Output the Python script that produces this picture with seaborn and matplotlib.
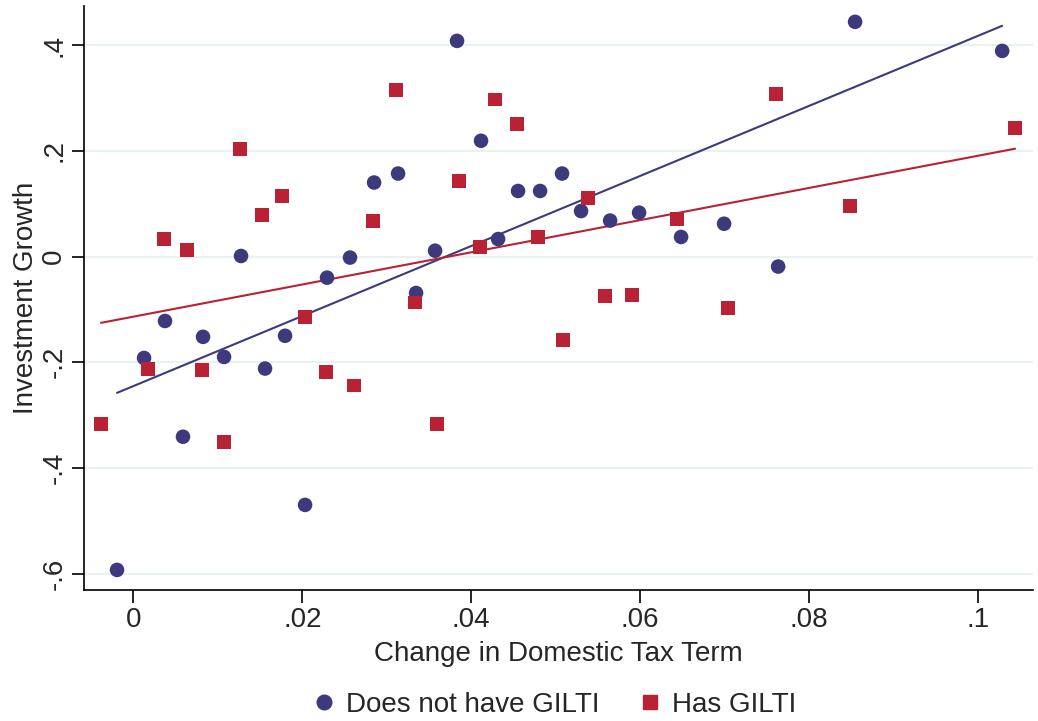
import numpy as np
import pandas as pd
import matplotlib
matplotlib.use("Agg")
import matplotlib.pyplot as plt
import seaborn as sns
from matplotlib.lines import Line2D

# Binned means, firms without GILTI exposure
no_gilti_x = [-0.00193, 0.00127, 0.00375, 0.00588, 0.00825, 0.01074, 0.01275, 0.01559,
              0.01796, 0.02033, 0.02293, 0.02565, 0.02850, 0.03134, 0.03347, 0.03572,
              0.03832, 0.04116, 0.04318, 0.04554, 0.04815, 0.05075, 0.05300, 0.05644,
              0.05987, 0.06484, 0.06993, 0.07633, 0.08544, 0.10285]
no_gilti_y = [-0.593, -0.192, -0.122, -0.341, -0.152, -0.190, 0.001, -0.212,
              -0.150, -0.470, -0.040, -0.002, 0.140, 0.157, -0.069, 0.011,
              0.408, 0.219, 0.033, 0.124, 0.124, 0.157, 0.086, 0.068,
              0.083, 0.037, 0.062, -0.019, 0.444, 0.389]

# Binned means, firms with GILTI exposure
gilti_x = [-0.00383, 0.00174, 0.00363, 0.00636, 0.00813, 0.01074, 0.01263, 0.01524,
           0.01761, 0.02033, 0.02281, 0.02612, 0.02837, 0.03110, 0.03335, 0.03595,
           0.03856, 0.04104, 0.04282, 0.04542, 0.04791, 0.05087, 0.05383, 0.05584,
           0.05904, 0.06437, 0.07040, 0.07608, 0.08484, 0.10438]
gilti_y = [-0.317, -0.212, 0.033, 0.013, -0.214, -0.351, 0.204, 0.079,
           0.115, -0.114, -0.218, -0.244, 0.068, 0.315, -0.087, -0.317,
           0.143, 0.018, 0.297, 0.250, 0.037, -0.158, 0.111, -0.074,
           -0.073, 0.071, -0.097, 0.308, 0.096, 0.243]

# Linear fit endpoints
no_gilti_fit_x = [-0.00193, 0.10285]
no_gilti_fit_y = [-0.258, 0.4365]
gilti_fit_x = [-0.00383, 0.10438]
gilti_fit_y = [-0.1255, 0.204]

x_ticks = [0, 0.02, 0.04, 0.06, 0.08, 0.1]
x_tick_labels = ["0", ".02", ".04", ".06", ".08", ".1"]
y_ticks = [-0.6, -0.4, -0.2, 0, 0.2, 0.4]
y_tick_labels = ["-.6", "-.4", "-.2", "0", ".2", ".4"]

navy = "#3c3a7c"
red = "#b82234"
grid_color = "#eaf1f3"

sns.set_style("white")
plt.rcParams['font.family'] = ['Liberation Sans', 'DejaVu Sans']

fig = plt.figure(figsize=(10.38, 7.21), dpi=100)
ax = fig.add_axes([84 / 1038, 131 / 721, (1033 - 84) / 1038, (590 - 6) / 721])

for yv in y_ticks:
    ax.axhline(yv, color=grid_color, lw=1.6, zorder=0)

df_no = pd.DataFrame({'x': no_gilti_x, 'y': no_gilti_y})
df_g = pd.DataFrame({'x': gilti_x, 'y': gilti_y})

sns.scatterplot(data=df_no, x='x', y='y', ax=ax, color=navy, marker='o', s=110,
                edgecolor='none', zorder=3)
sns.scatterplot(data=df_g, x='x', y='y', ax=ax, color=red, marker='s', s=100,
                edgecolor='none', zorder=3)
sns.lineplot(x=no_gilti_fit_x, y=no_gilti_fit_y, ax=ax, color=navy, lw=1.5, zorder=2)
sns.lineplot(x=gilti_fit_x, y=gilti_fit_y, ax=ax, color=red, lw=1.5, zorder=2)

ax.set_xlim(-0.00584, 0.1065)
ax.set_ylim(-0.631, 0.474)

ax.set_xticks(x_ticks)
ax.set_xticklabels(x_tick_labels, fontsize=20)
ax.set_yticks(y_ticks)
ax.set_yticklabels(y_tick_labels, fontsize=20, rotation=90, va='center')
ax.tick_params(axis='both', direction='out', length=9, width=1.2, color='black',
               bottom=True, left=True, pad=3)

for side in ['top', 'right']:
    ax.spines[side].set_visible(False)
for side in ['left', 'bottom']:
    ax.spines[side].set_color('black')
    ax.spines[side].set_linewidth(1.2)

ax.set_xlabel("Change in Domestic Tax Term", fontsize=20, labelpad=6)
ax.set_ylabel("Investment Growth", fontsize=20, labelpad=2)

handles = [
    Line2D([], [], marker='o', color=navy, linestyle='none', markersize=10.5),
    Line2D([], [], marker='s', color=red, linestyle='none', markersize=10),
]
fig.legend(handles, ["Does not have GILTI", "Has GILTI"], loc='center',
           bbox_to_anchor=(553 / 1038, 1 - 705 / 721), ncol=2, frameon=False,
           fontsize=20, handletextpad=0.3, columnspacing=1.3, handlelength=1.0)

fig.savefig("out.png", dpi=100)
